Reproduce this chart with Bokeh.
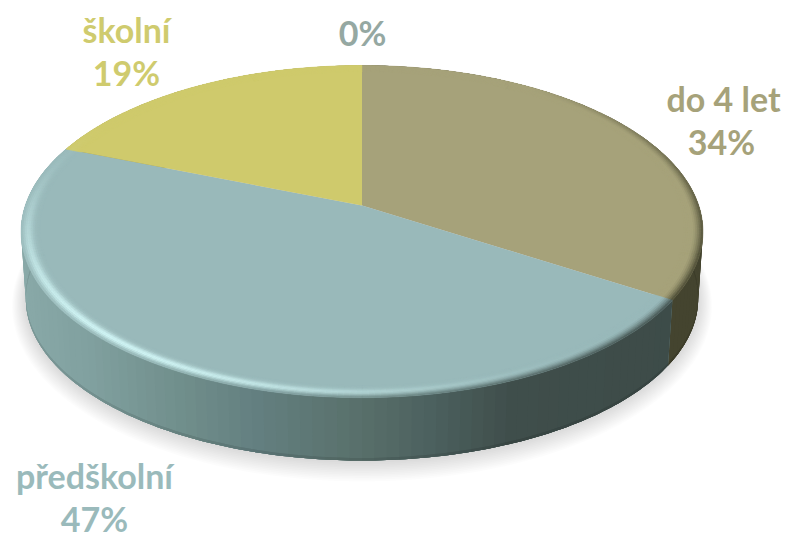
import numpy as np
from bokeh.plotting import figure
from bokeh.embed import file_html
from bokeh.resources import INLINE
from bokeh.core.properties import value

# Age groups and their shares in percent
categories = ["do 4 let", "předškolní", "školní", ""]
shares = [34, 47, 19, 0]

top_colors = ["#A6A27A", "#99B9BA", "#CFCA6C", "#95A8A2"]
label_colors = ["#A6A27A", "#9ABABB", "#CFCB6E", "#95A8A2"]

# Side wall shading: stops across the screen width per series
wall_x = [20, 100, 200, 270, 360, 450, 520, 705]
wall_rgb = {
    0: [(68, 68, 47)] * 8,
    1: [(138, 170, 169), (128, 160, 159), (111, 141, 138), (99, 127, 128),
        (90, 114, 109), (75, 95, 93), (63, 78, 75), (61, 75, 72)],
    2: [(160, 156, 90)] * 8,
    3: [(120, 130, 120)] * 8,
}

# Disc projection: horizontal scale, depth scale, vertical centre, perspective
TOP = dict(A=336.7, B=162.0, Y0=205.0, K=0.157, CX=361.5)
BOT = dict(A=332.0, B=158.0, Y0=272.6, K=0.157, CX=361.5)


def project(theta, r, g):
    """theta runs clockwise from twelve o'clock, r is the disc radius fraction."""
    x = r * np.sin(theta)
    y = r * np.cos(theta)
    d = 1 + g["K"] * y
    return g["CX"] + g["A"] * x / d, g["Y0"] - g["B"] * y / d


def hex_rgb(h):
    return np.array([int(h[i:i + 2], 16) for i in (1, 3, 5)], dtype=float)


def to_hex(c):
    c = np.clip(np.round(c), 0, 255).astype(int)
    return "#%02x%02x%02x" % tuple(c)


def wall_color(i, x):
    stops = np.array(wall_rgb[i], dtype=float)
    return np.array([np.interp(x, wall_x, stops[:, k]) for k in range(3)])


p = figure(width=785, height=539, x_range=(0, 785), y_range=(539, 0),
           output_backend="svg", toolbar_location=None, min_border=0,
           background_fill_color="white", border_fill_color="white")
p.axis.visible = False
p.grid.visible = False
p.outline_line_color = None

# Soft drop shadow under the disc
th = np.linspace(0, 2 * np.pi, 240)
for j in range(12):
    g = dict(BOT)
    g["A"] = BOT["A"] + 1.0 + j * 1.15
    g["B"] = BOT["B"] + 1.0 + j * 1.1
    g["Y0"] = BOT["Y0"] + 1.0 + j * 0.4
    sx, sy = project(th, 1.0, g)
    p.patch(sx, sy, fill_color="#000000", fill_alpha=0.0125, line_color=None)

# Wedge angles from the shares
edges = np.concatenate([[0.0], np.cumsum(shares)]) / 100.0 * 2 * np.pi

# Side wall: painted back to front, each facet reaching under its neighbour
wall_order = [2, 0, 1]
for i in wall_order:
    t = np.linspace(edges[i], edges[i + 1], max(3, shares[i] * 2) + 1)
    xa, ya = project(t, 1.0, TOP)
    xb, yb = project(t[::-1], 1.0, BOT)
    p.patch(np.concatenate([xa, xb]), np.concatenate([ya, yb]),
            fill_color=to_hex(wall_color(i, xa.mean())), line_color=None)
    wx, wy, wc, lx, ly, lc = [], [], [], [], [], []
    for j in range(len(t) - 1):
        a, b = t[j], t[min(j + 2, len(t) - 1)]
        seg = np.linspace(a, b, 5)
        xa, ya = project(seg, 1.0, TOP)
        xb, yb = project(seg[::-1], 1.0, BOT)
        mid_x, _ = project(np.array([t[j], t[j + 1]]), 1.0, BOT)
        c = wall_color(i, mid_x.mean())
        wx.append(np.concatenate([xa, xb]).tolist())
        wy.append(np.concatenate([ya, yb]).tolist())
        wc.append(to_hex(c))
        lip = dict(BOT)
        lip["Y0"] = BOT["Y0"] - 2.5
        xl, yl = project(seg, 1.0, lip)
        lx.append(np.concatenate([xl, xb]).tolist())
        ly.append(np.concatenate([yl, yb]).tolist())
        lc.append(to_hex(c * 0.9))
    if i == 1:
        # facets run clockwise, so the right-hand ones go on last
        wx, wy, wc = wx[::-1], wy[::-1], wc[::-1]
        lx, ly, lc = lx[::-1], ly[::-1], lc[::-1]
    p.patches(wx, wy, fill_color=wc, line_color=None)
    p.patches(lx, ly, fill_color=lc, line_color=None)

# Flat top face of every wedge
RIM = 0.945
fx, fy, fc = [], [], []
for i in range(len(shares)):
    if shares[i] == 0:
        continue
    t = np.linspace(edges[i], edges[i + 1], max(2, shares[i] * 3))
    xs, ys = project(t, 1.0, TOP)
    cx, cy = project(np.array([0.0]), 0.0, TOP)
    fx.append(np.concatenate([cx, xs]).tolist())
    fy.append(np.concatenate([cy, ys]).tolist())
    fc.append(top_colors[i])
p.patches(fx, fy, fill_color=fc, line_color=None)

# Rounded rim: rings of small cells lit from the lower left, dark on the right
rings = np.linspace(RIM, 1.0, 11)
rx, ry, rc = [], [], []
for i in range(len(shares)):
    if shares[i] == 0:
        continue
    base = hex_rgb(top_colors[i])
    steps = max(2, int(shares[i] * 4))
    t = np.linspace(edges[i], edges[i + 1], steps + 1)
    for a, b in zip(t[:-1], t[1:]):
        mid = 0.5 * (a + b)
        phi = np.pi / 2 - mid          # counter-clockwise angle from three o'clock
        light = max(0.0, np.cos(phi - np.radians(232))) ** 2.5
        shade = np.clip(max(0.95 * np.cos(phi + np.radians(35)), -np.sin(phi) * 0.9), 0, 1)
        for k in range(len(rings) - 1):
            r0, r1 = rings[k], rings[k + 1]
            s = (k + 0.5) / (len(rings) - 1)
            xa, ya = project(np.array([a, b]), r0, TOP)
            xb, yb = project(np.array([b, a]), r1, TOP)
            xs = np.concatenate([xa, xb])
            ys = np.concatenate([ya, yb])
            c = base.copy()
            bump = np.exp(-((s - 0.65) / 0.27) ** 2)
            c = c + (np.array([215, 252, 252]) - c) * light * bump
            w = np.clip((s - 0.45) / 0.55, 0, 1) ** 1.5 * shade * (1 - 0.45 * light)
            c = c + (wall_color(i, xs.mean()) - c) * w
            rx.append(xs.tolist()); ry.append(ys.tolist()); rc.append(to_hex(c))
p.patches(rx, ry, fill_color=rc, line_color=rc, line_width=0.5)

# Data labels: category on the first line, percentage on the second
label_pos = {
    0: [(723, 98), (721, 141)],
    1: [(94, 475), (94, 518)],
    2: [(126, 29), (126, 72)],
    3: [(None, None), (362, 32)],
}
for i, (name, share) in enumerate(zip(categories, shares)):
    lines = [name, f"{share}%"]
    for text, (x, y) in zip(lines, label_pos[i]):
        if not text:
            continue
        p.text([x], [y], text=[text], text_color=label_colors[i],
               text_font=value("Lato"), text_font_style="bold",
               text_font_size="34px", text_align="center", text_baseline="middle")

open("out.html", "w").write(file_html(p, INLINE))
